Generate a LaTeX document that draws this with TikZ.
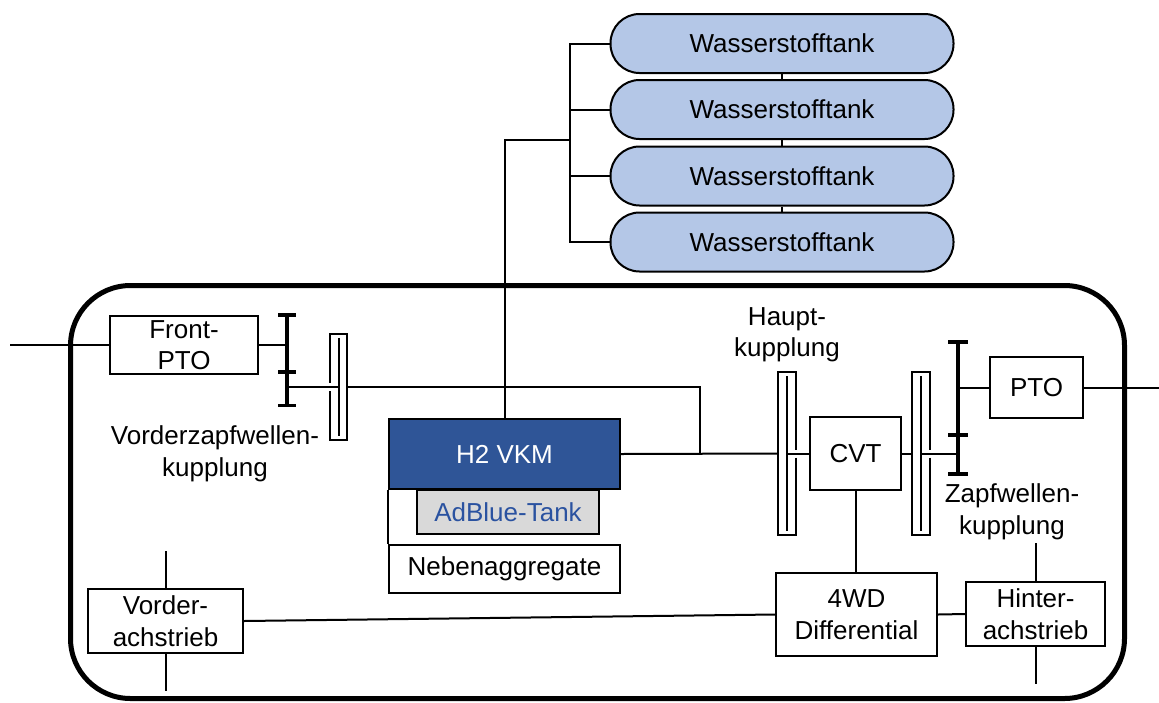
\documentclass[tikz,border=0pt]{standalone}
\usepackage{fontspec}
\setmainfont{Liberation Sans}
\definecolor{tankblue}{HTML}{B4C7E7}
\definecolor{vkmblue}{HTML}{2F5597}
\definecolor{adgray}{HTML}{D9D9D9}
\definecolor{adtext}{HTML}{2A52A0}
\newcommand\fs{\fontsize{26}{31.5}\selectfont}
\tikzset{
  box/.style={draw, line width=2pt, fill=white, inner sep=0pt, align=center, font=\fs},
  tankbox/.style={box, fill=tankblue, rounded corners=29pt, minimum width=343pt, minimum height=59pt},
  lbl/.style={inner sep=0pt, align=center, font=\fs},
  ln/.style={line width=2pt},
  barline/.style={line width=3.2pt},
  clutchbox/.style={draw=none, inner sep=0pt, minimum width=17pt},
}
\begin{document}
\begin{tikzpicture}[x=1pt,y=-1pt]
\useasboundingbox (0,0) rectangle (1159,702);
% frame
\draw[line width=5pt, rounded corners=60pt] (70.5,285.5) rectangle (1124.5,698.5);

% tanks
\node[tankbox] (t1) at (782,43.5) {Wasserstofftank};
\node[tankbox] (t2) at (782,109.5) {Wasserstofftank};
\node[tankbox] (t3) at (782,176) {Wasserstofftank};
\node[tankbox] (t4) at (782,242) {Wasserstofftank};
\draw[ln] (t1.south) -- (t2.north);
\draw[ln] (t2.south) -- (t3.north);
\draw[ln] (t3.south) -- (t4.north);
\draw[ln] (t1.west) -- ++(-40,0) |- (t4.west);
\draw[ln] (t2.west) -- ++(-40,0);
\draw[ln] (t3.west) -- ++(-40,0);

% engine block
\node[box, fill=adgray, text=adtext, minimum width=182pt, minimum height=44pt] (ad) at (508,512) {AdBlue-Tank};
\node[box, fill=vkmblue, text=white, minimum width=231pt, minimum height=70pt] (vkm) at (504.5,454) {H2 VKM};
\node[box, minimum width=231pt, minimum height=48pt] (neb) at (504.5,569) {Nebenaggregate};
\draw[ln] (vkm.south west) -- (neb.north west);
\coordinate (tk) at (570,140);
\draw[ln] (vkm.north) |- (tk);

% front PTO
\node[box, minimum width=148pt, minimum height=58pt] (fpto) at (184,345) {Front-\\PTO};
\coordinate (fin) at (10,345);
\draw[ln] (fin) -- (fpto.west);
\coordinate (b1t) at (287,315);
\coordinate (b1m) at (287,372);
\coordinate (b1b) at (287,405.5);
\draw[barline] (b1t) -- (b1b);
\foreach \p in {b1t,b1m,b1b} \draw[barline] ([xshift=-9pt]\p) -- ([xshift=9pt]\p);
\draw[ln] (fpto.east) -- (fpto.east -| b1t);

% front PTO clutch
\node[clutchbox, minimum height=106pt] (c1) at (338.5,387) {};
\draw[ln] ([yshift=-4pt]c1.west) -- (c1.south west) -- (c1.south east) -- (c1.north east) -- (c1.north west) -- ([yshift=4pt]c1.west);
\draw[ln] ([yshift=-4pt]c1.north) -- ([yshift=4pt]c1.south);
\draw[ln] (b1b |- c1.center) -- (c1.center);
\coordinate (j1) at (700,387);
\coordinate (j2) at (700,454);
\draw[ln] (c1.east) -- (j1) -- (j2);

% main clutch
\node[clutchbox, minimum height=162pt] (c2) at (787,453.5) {};
\draw[ln] ([yshift=-4pt]c2.east) -- (c2.south east) -- (c2.south west) -- (c2.north west) -- (c2.north east) -- ([yshift=4pt]c2.east);
\draw[ln] ([yshift=-4pt]c2.north) -- ([yshift=4pt]c2.south);
\draw[ln] (vkm.east) -- (c2.west);
\node[lbl] (l2) at (787,334.5) {Haupt-\\kupplung};

% CVT
\node[box, minimum width=91pt, minimum height=73pt] (cvt) at (855.5,453.5) {CVT};
\draw[ln] (cvt.west) -- (c2.center);

% PTO clutch
\node[clutchbox, minimum height=162pt] (c3) at (921,453.5) {};
\draw[ln] ([yshift=-4pt]c3.east) -- (c3.south east) -- (c3.south west) -- (c3.north west) -- (c3.north east) -- ([yshift=4pt]c3.east);
\draw[ln] ([yshift=-4pt]c3.north) -- ([yshift=4pt]c3.south);
\draw[ln] (cvt.east) -- (c3.west);
\coordinate (b2t) at (958,342);
\coordinate (b2m) at (958,435);
\coordinate (b2b) at (958,474);
\draw[barline] (b2t) -- (b2b);
\foreach \p in {b2t,b2m,b2b} \draw[barline] ([xshift=-10pt]\p) -- ([xshift=10pt]\p);
\draw[ln] (b2t |- c3.center) -- (c3.center);

% PTO
\node[box, minimum width=93pt, minimum height=61pt] (pto) at (1036.5,387.5) {PTO};
\coordinate (pout) at (1159,387.5);
\draw[ln] (b2t |- pto.west) -- (pto.west);
\draw[ln] (pto.east) -- (pout);

% labels
\node[lbl] (l1) at (215,454) {Vorderzapfwellen-\\kupplung};
\node[lbl] (l3) at (1012,512) {Zapfwellen-\\kupplung};

% drive
\node[box, minimum width=161pt, minimum height=83pt] (diff) at (856.5,614.5) {4WD\\Differential};
\node[box, minimum width=139pt, minimum height=64pt] (hin) at (1035.5,614) {Hinter-\\achstrieb};
\node[box, minimum width=155pt, minimum height=64pt] (vor) at (165.5,621) {Vorder-\\achstrieb};
\draw[ln] (cvt.south) -- (cvt.south |- diff.north);
\draw[ln] (diff.east) -- (hin.west);
\draw[ln] (vor.east) -- (diff.west);
\draw[ln] (vor.north) -- ++(0,-37);
\draw[ln] (vor.south) -- ++(0,37);
\draw[ln] (hin.north) -- ++(0,-38);
\draw[ln] (hin.south) -- ++(0,37);
\end{tikzpicture}
\end{document}
